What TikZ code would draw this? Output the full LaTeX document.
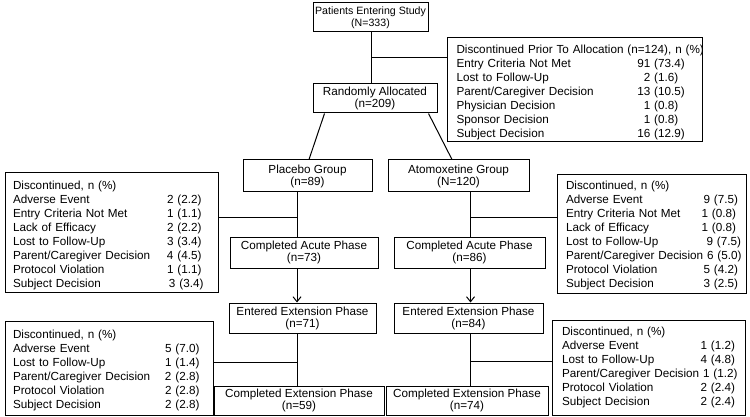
\documentclass[tikz,border=0pt]{standalone}
\usepackage{fontspec}
\setmainfont{Liberation Sans}
\usetikzlibrary{arrows.meta,calc}
\newcommand\lrow[3]{\mbox{\makebox[#1][l]{#2}#3}}
\newcommand\rrow[3]{\mbox{\makebox[#1][l]{#2\hfill#3}}}
\newcommand\crow[3]{\mbox{\makebox[#1][l]{#2}\makebox[0pt]{#3}}}
\newcommand\topstrut[1]{\rule{0pt}{#1}}
\tikzset{
  cbox/.style={draw=black, line width=1pt, rectangle, align=center, inner sep=1pt,
    font=\fontsize{11.7}{12}\selectfont},
  lbox/.style={draw=black, line width=1pt, rectangle, align=left, inner ysep=0pt,
    font=\fontsize{11.7}{14}\selectfont},
  conn/.style={draw=black, line width=1pt},
  arr/.style={conn, -{Straight Barb[length=5pt,width=8pt,line width=1pt]}}
}
\begin{document}
\begin{tikzpicture}[x=1pt,y=-1pt]
\useasboundingbox[fill=white] (0,0) rectangle (750,417);
% central boxes
\node[cbox, font=\fontsize{10.6}{12}\selectfont, minimum width=115, minimum height=29] (top) at (370.5,17.5) {Patients Entering Study\\(N=333)};
\node[cbox, minimum width=124, minimum height=29] (ra) at (375,98.5) {Randomly Allocated\\(n=209)};
\node[cbox, minimum width=129, minimum height=32] (plac) at (307.5,176) {Placebo Group\\(n=89)};
\node[cbox, minimum width=141, minimum height=32] (atom) at (458.5,176) {Atomoxetine Group\\(N=120)};
\node[cbox, minimum width=148, minimum height=31] (cap) at (304,252.5) {Completed Acute Phase\\(n=73)};
\node[cbox, minimum width=151, minimum height=31] (caa) at (469.5,252.5) {Completed Acute Phase\\(n=86)};
\node[cbox, minimum width=147, minimum height=30] (eep) at (302.5,318) {Entered Extension Phase\\(n=71)};
\node[cbox, minimum width=149, minimum height=30] (eea) at (468.5,318) {Entered Extension Phase\\(n=84)};
\node[cbox, minimum width=170, minimum height=29.5] (cep) at (299,400.75) {Completed Extension Phase\\(n=59)};
\node[cbox, minimum width=162, minimum height=29.5] (cea) at (467,400.75) {Completed Extension Phase\\(n=74)};
% discontinued boxes
\node[lbox, minimum width=255, minimum height=104, inner xsep=9.5pt, text width=236pt] (dpa) at (574.5,90) {%
\topstrut{13.5pt}\mbox{Discontinued Prior To Allocation (n=124), n (\%)}\\
\crow{204.5pt}{Entry Criteria Not Met}{91 (73.4)}\\
\crow{204.5pt}{Lost to Follow-Up}{2 (1.6)}\\
\crow{204.5pt}{Parent/Caregiver Decision}{13 (10.5)}\\
\crow{204.5pt}{Physician Decision}{1 (0.8)}\\
\crow{204.5pt}{Sponsor Decision}{1 (0.8)}\\
\crow{204.5pt}{Subject Decision}{16 (12.9)}};
\node[lbox, minimum width=213, minimum height=119, inner xsep=8pt, text width=197pt] (dlm) at (111.5,232.5) {%
\topstrut{14.5pt}\mbox{Discontinued, n (\%)}\\
\lrow{154pt}{Adverse Event}{2 (2.2)}\\
\lrow{154pt}{Entry Criteria Not Met}{1 (1.1)}\\
\lrow{154pt}{Lack of Efficacy}{2 (2.2)}\\
\lrow{154pt}{Lost to Follow-Up}{3 (3.4)}\\
\lrow{154pt}{Parent/Caregiver Decision}{4 (4.5)}\\
\lrow{154pt}{Protocol Violation}{1 (1.1)}\\
\lrow{156pt}{Subject Decision}{3 (3.4)}};
\node[lbox, minimum width=189, minimum height=118, inner xsep=9pt, text width=171pt] (drm) at (651.5,234) {%
\topstrut{10.5pt}\mbox{Discontinued, n (\%)}\\
\rrow{172pt}{Adverse Event}{9 (7.5)}\\
\rrow{170pt}{Entry Criteria Not Met}{1 (0.8)}\\
\rrow{170pt}{Lack of Efficacy}{1 (0.8)}\\
\rrow{175pt}{Lost to Follow-Up}{9 (7.5)}\\
\mbox{Parent/Caregiver Decision 6 (5.0)}\\
\rrow{172pt}{Protocol Violation}{5 (4.2)}\\
\rrow{172pt}{Subject Decision}{3 (2.5)}};
\node[lbox, minimum width=208, minimum height=94.5, inner xsep=8pt, text width=192pt] (dlb) at (109,368.25) {%
\topstrut{12pt}\mbox{Discontinued, n (\%)}\\
\lrow{152pt}{Adverse Event}{5 (7.0)}\\
\lrow{152pt}{Lost to Follow-Up}{1 (1.4)}\\
\lrow{152pt}{Parent/Caregiver Decision}{2 (2.8)}\\
\lrow{152pt}{Protocol Violation}{2 (2.8)}\\
\lrow{152pt}{Subject Decision}{2 (2.8)}};
\node[lbox, minimum width=193, minimum height=95.5, inner xsep=10pt, text width=173pt] (drb) at (648.5,367.75) {%
\mbox{Discontinued, n (\%)}\\
\rrow{173pt}{Adverse Event}{1 (1.2)}\\
\rrow{173pt}{Lost to Follow-Up}{4 (4.8)}\\
\mbox{Parent/Caregiver Decision 1 (1.2)}\\
\rrow{173pt}{Protocol Violation}{2 (2.4)}\\
\rrow{173pt}{Subject Decision}{2 (2.4)}};
% connector coordinates
\coordinate (j0) at (371,58);
\coordinate (xP) at (297,0);
\coordinate (xA) at (470.5,0);
\coordinate (hP1) at (297,217);
\coordinate (hP2) at (297,362);
\coordinate (hA1) at (470.5,217);
\coordinate (hA2) at (470.5,361);
% connectors
\draw[conn] (j0 |- top.south) -- (j0 |- ra.north);
\draw[conn] (j0) -- (j0 -| dpa.west);
\draw[conn] ($(ra.south west)+(12,0)$) -- ($(plac.north)+(1.5,0)$);
\draw[conn] ($(ra.south east)+(-9,0)$) -- ($(atom.north)+(-6.5,0)$);
\draw[conn] (xP |- plac.south) -- (xP |- cap.north);
\draw[conn] (dlm.east |- hP1) -- (hP1);
\draw[arr] (xP |- cap.south) -- (xP |- eep.north);
\draw[conn] (xP |- eep.south) -- (xP |- cep.north);
\draw[conn] (dlb.east |- hP2) -- (hP2);
\draw[conn] (xA |- atom.south) -- (xA |- caa.north);
\draw[conn] (hA1) -- (drm.west |- hA1);
\draw[arr] (xA |- caa.south) -- (xA |- eea.north);
\draw[conn] (xA |- eea.south) -- (xA |- cea.north);
\draw[conn] (hA2) -- (drb.west |- hA2);
\end{tikzpicture}
\end{document}
